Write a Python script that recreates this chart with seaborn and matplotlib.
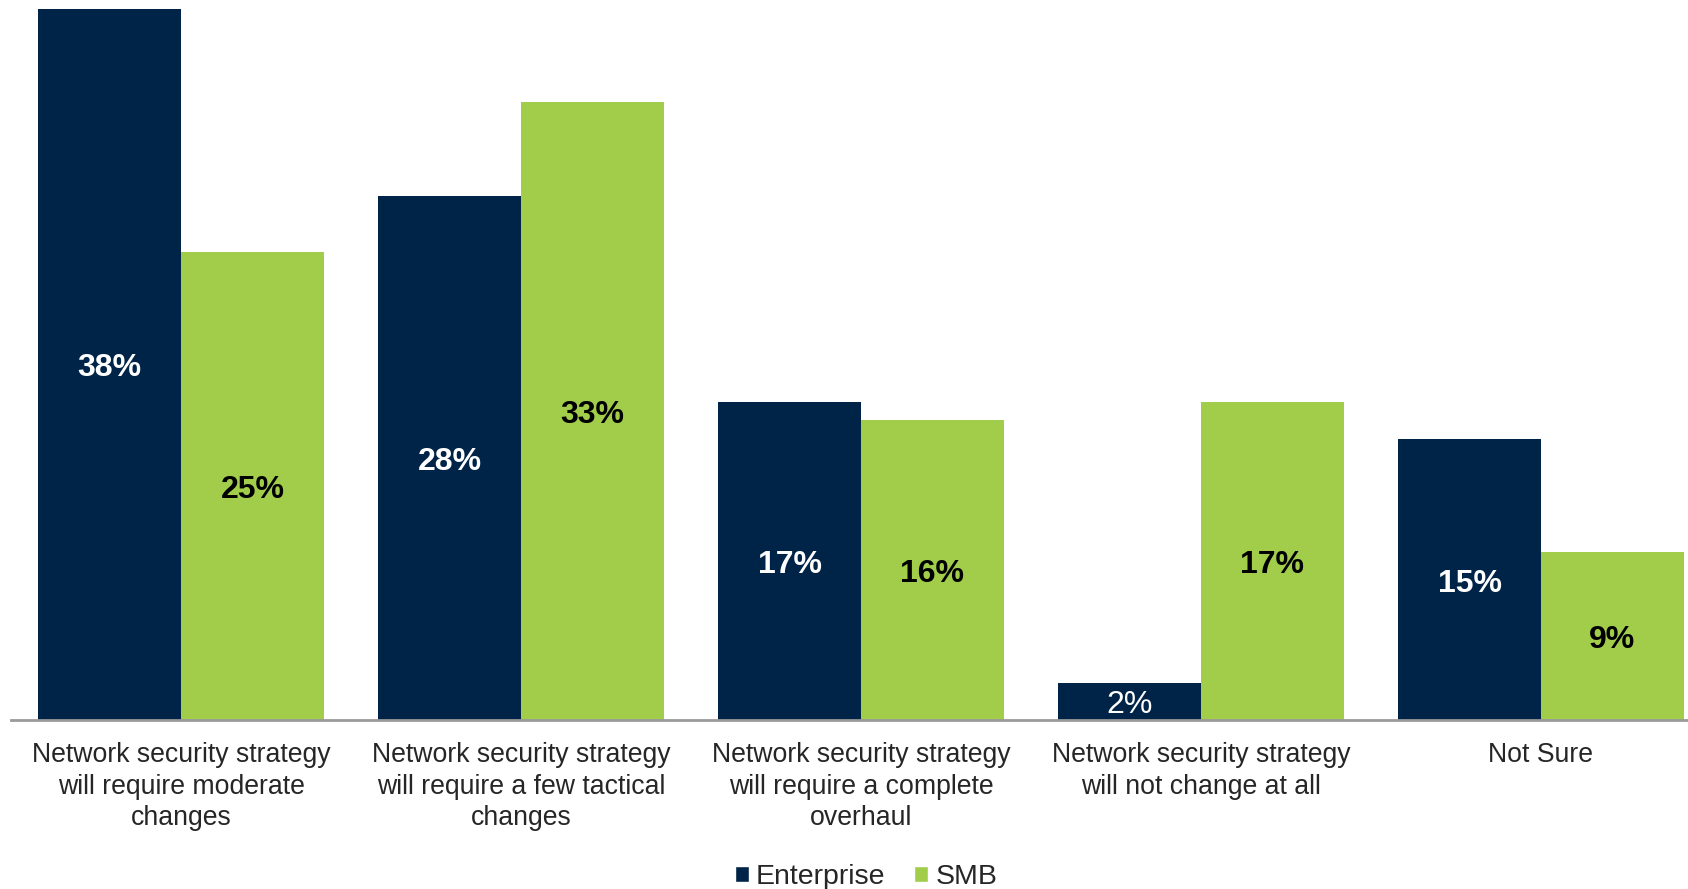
import pandas as pd
import seaborn as sns
import matplotlib.pyplot as plt
from matplotlib.patches import Patch

# Veriler
categories = [
    'Network security strategy\nwill require moderate\nchanges',
    'Network security strategy\nwill require a few tactical\nchanges',
    'Network security strategy\nwill require a complete\noverhaul',
    'Network security strategy\nwill not change at all',
    'Not Sure',
]
enterprise = [38, 28, 17, 2, 15]
smb = [25, 33, 16, 17, 9]
series_names = ['Enterprise', 'SMB']
colors = ['#002447', '#A1CD4A']

df = pd.DataFrame({
    'category': categories * 2,
    'group': [series_names[0]] * 5 + [series_names[1]] * 5,
    'value': enterprise + smb,
})

sns.set_style('white')
plt.rcParams['font.family'] = ['Liberation Sans', 'DejaVu Sans']

fig = plt.figure(figsize=(16.88, 8.89), dpi=100)
ax = fig.add_axes([11 / 1688, 169 / 889, 1700 / 1688, 711.4 / 889])

sns.barplot(data=df, x='category', y='value', hue='group', palette=colors,
            width=0.841, saturation=1, ax=ax, legend=False, linewidth=0)

ax.set_ylim(0, 38)
ax.set_xlim(-0.5, 4.5)
ax.set_xlabel('')
ax.set_ylabel('')
ax.set_yticks([])
sns.despine(ax=ax, left=True, right=True, top=True)
ax.spines['bottom'].set_color('#9a9a9a')
ax.spines['bottom'].set_linewidth(2)
ax.tick_params(axis='x', length=0, pad=16, labelsize=19.2)
for lbl in ax.get_xticklabels():
    lbl.set_multialignment('center')
    lbl.set_linespacing(1.27)

# Etiketler (çubukların ortasında)
for i, cont in enumerate(ax.containers):
    vals = enterprise if i == 0 else smb
    for bar, v in zip(cont, vals):
        cx = bar.get_x() + bar.get_width() / 2
        cy = bar.get_height() / 2
        weight = 'normal' if v < 5 else 'bold'
        ax.annotate(f'{v}%', (cx, cy), xytext=(0, -3), textcoords='offset points',
                    ha='center', va='center', fontsize=23, fontweight=weight,
                    color='white' if i == 0 else 'black')

handles = [Patch(facecolor=c, label=n) for c, n in zip(colors, series_names)]
fig.legend(handles=handles, loc='center', bbox_to_anchor=(866 / 1688, 1 - 877 / 889),
           ncol=2, frameon=False, fontsize=20.5, handlelength=0.5, handleheight=0.5,
           handletextpad=0.25, columnspacing=1.0)

plt.savefig('out.png', dpi=100)
plt.close()
